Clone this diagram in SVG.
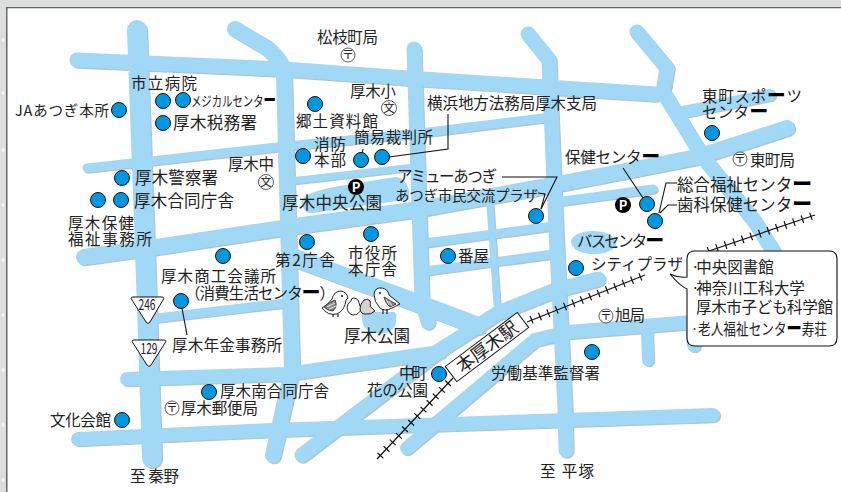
<svg xmlns="http://www.w3.org/2000/svg" xmlns:xlink="http://www.w3.org/1999/xlink" width="841" height="492" viewBox="0 0 841 492">
<style>
text{font-family:"Noto Sans CJK JP","Noto Sans",sans-serif;font-size:15.5px;fill:#222}
.s{font-size:16.5px}
.d{font-weight:900;fill:#000;font-size:1.2em}
.dot{fill:#0097e0;stroke:#111;stroke-width:1}
.ld{fill:none;stroke:#111;stroke-width:1.1}
.mk{fill:#fff;stroke:#333;stroke-width:.8}
.mt{font-size:11.5px;text-anchor:middle}
.r{fill:none;stroke-linecap:round;stroke-linejoin:round}
.w16{stroke-width:16}.w20{stroke-width:20}.w15{stroke-width:15}.w9{stroke-width:9}.w7{stroke-width:7}.w18{stroke-width:18}.w14{stroke-width:14}.w12{stroke-width:12}
.rail{fill:none;stroke:#111;stroke-width:1.2}
.tick{fill:none;stroke:#111;stroke-width:8;stroke-dasharray:1.2 7.8}
.b{fill:#fff;stroke:#222;stroke-width:1}
.g{fill:#d4d4d4;stroke:#222;stroke-width:1}
.wg{fill:#8a8a8a;stroke:#222;stroke-width:.8}
.st{fill:none;stroke:#fff;stroke-width:.8}
</style>
<defs>
<g id="roadset" class="r">
<path class="w15" d="M77,60L283,69L407,78L655,94"/>
<path class="w20" d="M137,30L145,250L152,458"/>
<path class="w16" d="M235,29L267,48Q282,60 284,75L292,370L273,455"/>
<path class="w15" d="M414,49L422,300L428,322"/>
<path class="w15" d="M528,34L549,60L551,110L556,230L565,408L566,450"/>
<path class="w15" d="M637,32L667,68L663,92L703,157L755,222L780,262"/>
<path class="w16" d="M787,128L697,157L563,183L420,209L295,226L157,247L84,257"/>
<path class="w9" d="M87,168L277,147L420,133L543,118"/>
<path class="w7" d="M290,181L414,167"/>
<path class="w9" d="M563,201L653,189"/>
<path class="w9" d="M425,243L553,226"/>
<path class="w9" d="M425,271L553,254"/>
<path class="w7" d="M490,205L497,305"/>
<path class="w12" d="M683,112L770,95"/>
<path class="w18" d="M295,258L333,272L420,304L478,326"/>
<path class="w15" d="M598,279L553,291L498,313L440,350L302,455"/>
<path class="w14" d="M692,322L568,332L535,340L452,410L407,448"/>
<path class="w12" d="M647,332L648,360"/>
<path class="w14" d="M692,322L694,345"/>
<path class="w14" d="M78,439L273,430L420,425L713,415"/>
<path class="w14" d="M127,379L287,374L440,352"/>
<path class="w9" d="M157,318L285,303"/>
<path d="M302,200Q305,192 340,186L395,177Q405,177 408,190V198L310,212Q302,212 302,200Z" fill="#a0d8f5" stroke="none"/>
<ellipse cx="593" cy="242" rx="22" ry="11" fill="#a0d8f5" stroke="none"/>
<path d="M362,312H395V318Q395,332 378,332Q362,332 362,318Z" fill="#a0d8f5" stroke="none"/>
</g>
</defs>
<rect width="841" height="492" fill="#fff"/>
<g id="frame">
<rect width="841" height="7" fill="#dcdedd"/><rect width="6" height="492" fill="#dcdedd"/>
<rect x="6" y="7" width="835" height="1.300" fill="#666"/><rect x="6" y="7" width="1.500" height="485" fill="#666"/>
<g fill="#f2f2f2"><circle cx="3" cy="40" r="2"/><circle cx="3" cy="93" r="2"/><circle cx="3" cy="150" r="2"/><circle cx="3" cy="205" r="2"/><circle cx="3" cy="260" r="2"/><circle cx="3" cy="315" r="2"/><circle cx="3" cy="370" r="2"/><circle cx="3" cy="425" r="2"/><circle cx="3" cy="480" r="2"/></g>
</g>
<g id="roads">
<use xlink:href="#roadset" href="#roadset" transform="translate(1.2,1.2)" stroke="#b3c4cc"/>
<use xlink:href="#roadset" href="#roadset" stroke="#a0d8f5"/>
</g>
<g id="railway">
<path class="rail" d="M377,459L453,378M527,322L645,275M706,252L815,215"/>
<path class="tick" d="M380,456L453,378M531,320L645,275M708,251L815,215"/>
</g>
<g id="connectors">
<path class="ld" d="M448,114V149L389,157"/>
<path class="ld" d="M363,149L362,154"/>
<path class="ld" d="M623,168L643,198"/>
<path class="ld" d="M677,183H666L659,213"/>
<path class="ld" d="M677,205H668L660,213"/>
<path class="ld" d="M502,177H557L541,209"/>
<path class="ld" d="M538,193L545,194L541,209"/>
<path class="ld" d="M182,308L187,335"/>
</g>
<g id="birds">
<path class="b" d="M322,308Q328,305 332,299Q334,291 341,291Q347,292 348,298L346,300Q345,310 337,314Q328,316 322,308Z"/>
<path class="wg" d="M324,307Q329,302 335,300Q338,306 333,311Q328,311 324,307Z"/>
<path class="st" d="M327,307L335,303M329,309L336,306"/>
<circle cx="342" cy="296" r=".9" fill="#000"/>
<path class="b" d="M347,308Q347,303 351,301Q351,298 354,298Q359,299 359,303L361,309Q359,315 353,315Q348,314 347,308Z"/>
<path class="g" d="M360,309Q360,304 364,300Q368,298 370,301Q371,303 370,306L375,311Q371,315 365,314Q361,314 360,309Z"/>
<path class="b" d="M374,294Q375,287 382,288Q388,289 389,295L400,304L392,308Q385,312 380,308Q374,302 374,294Z"/>
<path class="wg" d="M384,297L396,304L390,307Q385,303 384,297Z"/>
<path class="st" d="M386,299L389,305M389,301L392,306"/>
<circle cx="380" cy="293" r=".9" fill="#000"/>
<path class="ld" d="M333,314V317M338,314V317M383,309V314M387,309V314"/>
</g>
<g id="n-matsueda"><text x="317" y="43" textLength="61">松枝町局</text><circle class="mk" cx="348" cy="55" r="7"/><text class="mt" x="348" y="59">〒</text></g>
<g id="n-hospital"><circle class="dot" cx="163" cy="101" r="7.500"/><text x="131" y="89" textLength="66">市立病院</text></g>
<g id="n-medical"><circle class="dot" cx="183" cy="100" r="7.500"/><text x="191" y="106" style="font-size:14px" textLength="85" lengthAdjust="spacingAndGlyphs">メジカルセンタ<tspan class="d">ー</tspan></text></g>
<g id="n-ja"><circle class="dot" cx="119" cy="110" r="7.500"/><text x="15" y="116" style="font-size:14.5px" textLength="94">JAあつぎ本所</text></g>
<g id="n-tax"><circle class="dot" cx="163" cy="123" r="7.500"/><text class="s" x="173" y="129" textLength="84">厚木税務署</text></g>
<g id="n-police"><circle class="dot" cx="122" cy="178" r="7.500"/><text class="s" x="135" y="184" textLength="83">厚木警察署</text></g>
<g id="n-joint"><circle class="dot" cx="121" cy="200" r="7.500"/><text class="s" x="134" y="207" textLength="100">厚木合同庁舎</text></g>
<g id="n-hoken"><circle class="dot" cx="98" cy="200" r="7.500"/><text x="68" y="229" textLength="66">厚木保健</text><text x="68" y="245" textLength="84">福祉事務所</text></g>
<g id="n-kyodo"><circle class="dot" cx="315" cy="104" r="7.500"/><text x="296" y="127" textLength="82">郷土資料館</text></g>
<g id="n-school1"><text x="350" y="97" textLength="46">厚木小</text><circle class="mk" cx="389" cy="108" r="7.500"/><text class="mt" x="389" y="112">文</text></g>
<g id="n-school2"><text x="228" y="170" textLength="46">厚木中</text><circle class="mk" cx="266" cy="182" r="7.500"/><text class="mt" x="266" y="186">文</text></g>
<g id="n-fire"><circle class="dot" cx="303" cy="156" r="7.500"/><text x="314" y="150" textLength="32">消防</text><text x="314" y="166" textLength="32">本部</text></g>
<g id="n-court"><circle class="dot" cx="361" cy="160" r="7.500"/><text x="354" y="143" textLength="79">簡易裁判所</text></g>
<g id="n-legal"><circle class="dot" cx="382" cy="157" r="7.500"/><text x="427" y="109" textLength="170">横浜地方法務局厚木支局</text></g>
<g id="n-park"><circle cx="356" cy="187" r="8" fill="#000"/><text x="356" y="192" style="font-size:13px;font-weight:700;fill:#fff" text-anchor="middle">P</text><text class="s" x="282" y="209" textLength="100">厚木中央公園</text></g>
<g id="n-annex"><circle class="dot" cx="307" cy="242" r="7.500"/><text x="275" y="266" textLength="60">第2庁舎</text></g>
<g id="n-cityhall"><circle class="dot" cx="371" cy="234" r="7.500"/><text x="348" y="259" textLength="49">市役所</text><text x="348" y="275" textLength="49">本庁舎</text></g>
<g id="n-shoko"><circle class="dot" cx="223" cy="256" r="7.500"/><text x="161" y="282" textLength="115">厚木商工会議所</text><text x="185" y="299" textLength="150">（消費生活センタ<tspan class="d">ー</tspan>）</text></g>
<g id="n-nenkin"><circle class="dot" cx="181" cy="301" r="7.500"/><text x="172" y="351" textLength="110">厚木年金事務所</text></g>
<g id="n-atsugipark"><text class="s" x="344" y="342" textLength="66">厚木公園</text></g>
<g id="n-r246"><path d="M133,297H162Q165,297 163,300L150,322Q148,325 146,322L132,300Q130,297 133,297Z" fill="#fff" stroke="#111" stroke-width="1"/><text x="138.500" y="310" style="font-size:15px" textLength="17" lengthAdjust="spacingAndGlyphs">246</text></g>
<g id="n-r129"><path d="M134,340H164Q167,340 165,343L151,365Q149,368 147,365L133,343Q131,340 134,340Z" fill="#fff" stroke="#111" stroke-width="1"/><text x="140.500" y="354" style="font-size:15px" textLength="17" lengthAdjust="spacingAndGlyphs">129</text></g>
<g id="n-minami"><circle class="dot" cx="209" cy="392" r="7.500"/><text x="220" y="397" textLength="109">厚木南合同庁舎</text></g>
<g id="n-post"><circle class="mk" cx="172" cy="408" r="7"/><text class="mt" x="172" y="412">〒</text><text x="181" y="414" textLength="77">厚木郵便局</text></g>
<g id="n-bunka"><circle class="dot" cx="122" cy="420" r="7.500"/><text x="50" y="426" textLength="61">文化会館</text></g>
<g id="n-hadano"><text x="130" y="482" textLength="49">至 秦野</text></g>
<g id="n-naka"><circle class="dot" cx="439" cy="374" r="7.500"/><text x="399" y="379" textLength="28">中町</text><text x="367" y="396" textLength="61">花の公園</text></g>
<g id="n-station" transform="rotate(-37 487 347)"><rect x="442" y="337.500" width="90" height="19" fill="#fff" stroke="#111" stroke-width="1"/><text x="487" y="353.500" style="font-size:18px" text-anchor="middle">本厚木駅</text></g>
<g id="n-roudou"><circle class="dot" cx="592" cy="352" r="7.500"/><text x="491" y="379" textLength="109">労働基準監督署</text></g>
<g id="n-banya"><circle class="dot" cx="448" cy="256" r="7.500"/><text x="458" y="262" textLength="31">番屋</text></g>
<g id="n-city"><circle class="dot" cx="576" cy="268" r="7.500"/><text x="591" y="270" textLength="92">シティプラザ</text></g>
<g id="n-asahi"><circle class="mk" cx="606" cy="316" r="7"/><text class="mt" x="606" y="320">〒</text><text x="615" y="321" textLength="30">旭局</text></g>
<g id="n-hiratsuka"><text x="540" y="477" textLength="54">至 平塚</text></g>
<g id="n-bus"><text x="577" y="247" textLength="87">バスセンタ<tspan class="d">ー</tspan></text></g>
<g id="n-sports"><circle class="dot" cx="712" cy="133" r="7.500"/><text x="702" y="102" textLength="100">東町スポ<tspan class="d">ー</tspan>ツ</text><text x="702" y="118" textLength="66">センタ<tspan class="d">ー</tspan></text></g>
<g id="n-higashi"><circle class="mk" cx="740" cy="159" r="7"/><text class="mt" x="740" y="163">〒</text><text x="750" y="166" textLength="45">東町局</text></g>
<g id="n-hokenc"><circle class="dot" cx="647" cy="204" r="7.500"/><text x="565" y="163" textLength="95">保健センタ<tspan class="d">ー</tspan></text></g>
<g id="n-fukushi"><circle class="dot" cx="655" cy="221" r="7.500"/><text class="s" x="677" y="191" textLength="135">総合福祉センタ<tspan class="d">ー</tspan></text><text class="s" x="677" y="211" textLength="135">歯科保健センタ<tspan class="d">ー</tspan></text></g>
<g id="n-p2"><circle cx="623" cy="205" r="8" fill="#000"/><text x="623" y="210" style="font-size:13px;font-weight:700;fill:#fff" text-anchor="middle">P</text></g>
<g id="n-amyu"><circle class="dot" cx="536" cy="216" r="7.500"/><text x="397" y="182" textLength="100">アミューあつぎ</text><text x="395" y="201" style="font-size:14.5px" textLength="143">あつぎ市民交流プラザ</text></g>
<g id="n-callout"><path d="M695,251H829Q837,251 837,259V338Q837,346 829,346H695Q687,346 687,338V289Q680,286 670,274Q678,278 687,277V259Q687,251 695,251Z" fill="#fff" stroke="#111" stroke-width="1.100"/>
<text x="691" y="273">·<tspan dx="-3.500">中央図書館</tspan></text><text x="691" y="294">·<tspan dx="-3.500">神奈川工科大学</tspan></text><text x="696" y="313" textLength="137">厚木市子ども科学館</text><text x="691" y="335" textLength="136" lengthAdjust="spacingAndGlyphs">·老人福祉センタ<tspan class="d">ー</tspan>寿荘</text></g>
</svg>
